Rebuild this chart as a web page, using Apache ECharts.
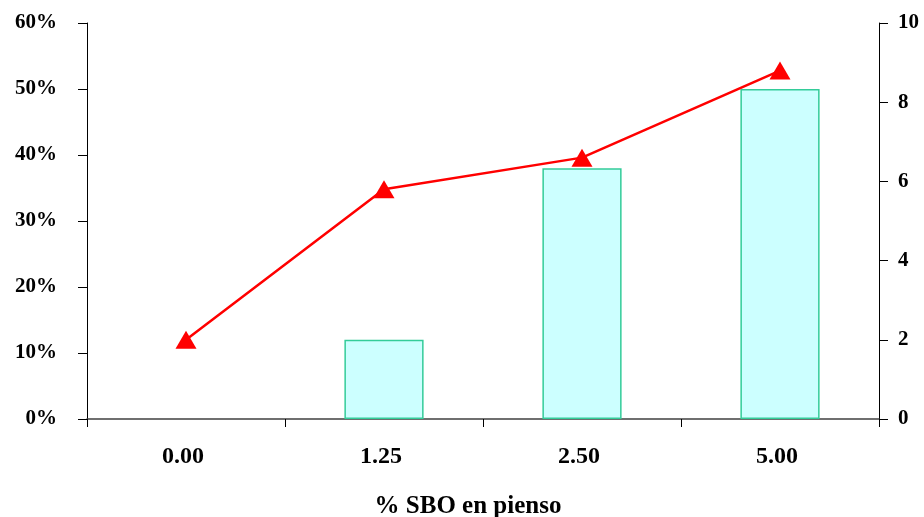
<!DOCTYPE html>
<html>
<head>
<meta charset="utf-8">
<script src="https://cdn.jsdelivr.net/npm/echarts@6/dist/echarts.min.js"></script>
<style>
  html, body { margin: 0; padding: 0; background: #fff; }
  #chart { width: 924px; height: 517px; }
</style>
</head>
<body>
<div id="chart"></div>
<script>
// Dietary SBO levels (x categories)
const categories = ['0.00', '1.25', '2.50', '5.00'];
// Bar series, left axis (fraction, shown as %)
const barValues = [0, 0.12, 0.38, 0.50];
// Line series, right axis
const lineValues = [2.0, 5.8, 6.6, 8.8];

const FONT = '"Liberation Serif", "Times New Roman", serif';
const baseText = { fontFamily: FONT, fontWeight: 'bold', color: '#000' };

// A zero-height bar should not leave an outline on the baseline
const barData = barValues.map(v => v === 0 ? { value: v, itemStyle: { borderWidth: 0 } } : v);

const chart = echarts.init(document.getElementById('chart'), null, { renderer: 'canvas' });
chart.setOption({
  animation: false,
  backgroundColor: '#fff',
  grid: {
    left: 87, right: 45, top: 23, bottom: 98,
    containLabel: false,
    outerBoundsMode: 'none'
  },
  xAxis: {
    type: 'category',
    data: categories,
    name: '% SBO en pienso',
    nameLocation: 'middle',
    nameGap: 75,
    nameTextStyle: Object.assign({ fontSize: 25, padding: [0, 30, 0, 0] }, baseText),
    axisLine: { lineStyle: { color: '#404040', width: 1.5 } },
    axisTick: { show: true, length: 8, lineStyle: { color: '#000' } },
    axisLabel: Object.assign({ margin: 26, fontSize: 24, padding: [0, 6, 0, 0] }, baseText),
    splitLine: { show: false }
  },
  yAxis: [
    {
      type: 'value',
      min: 0, max: 0.6, interval: 0.1,
      position: 'left',
      axisLine: { show: true, lineStyle: { color: '#000', width: 1 } },
      axisTick: { show: true, length: 9, lineStyle: { color: '#000' } },
      axisLabel: Object.assign({
        margin: 30,
        fontSize: 21,
        formatter: v => Math.round(v * 100) + '%'
      }, baseText),
      splitLine: { show: false }
    },
    {
      type: 'value',
      min: 0, max: 10, interval: 2,
      position: 'right',
      axisLine: { show: true, lineStyle: { color: '#000', width: 1 } },
      axisTick: { show: true, length: 9, lineStyle: { color: '#000' } },
      axisLabel: Object.assign({ margin: 19, fontSize: 21 }, baseText),
      splitLine: { show: false }
    }
  ],
  series: [
    {
      type: 'bar',
      yAxisIndex: 0,
      data: barData,
      barWidth: '40%',
      itemStyle: { color: '#ccffff', borderColor: '#33cc99', borderWidth: 1.5 }
    },
    {
      type: 'line',
      yAxisIndex: 1,
      data: lineValues,
      symbol: 'triangle',
      symbolSize: [21, 18],
      lineStyle: { color: '#ff0000', width: 2.5 },
      itemStyle: { color: '#ff0000' },
      z: 5
    }
  ]
});
</script>
</body>
</html>
